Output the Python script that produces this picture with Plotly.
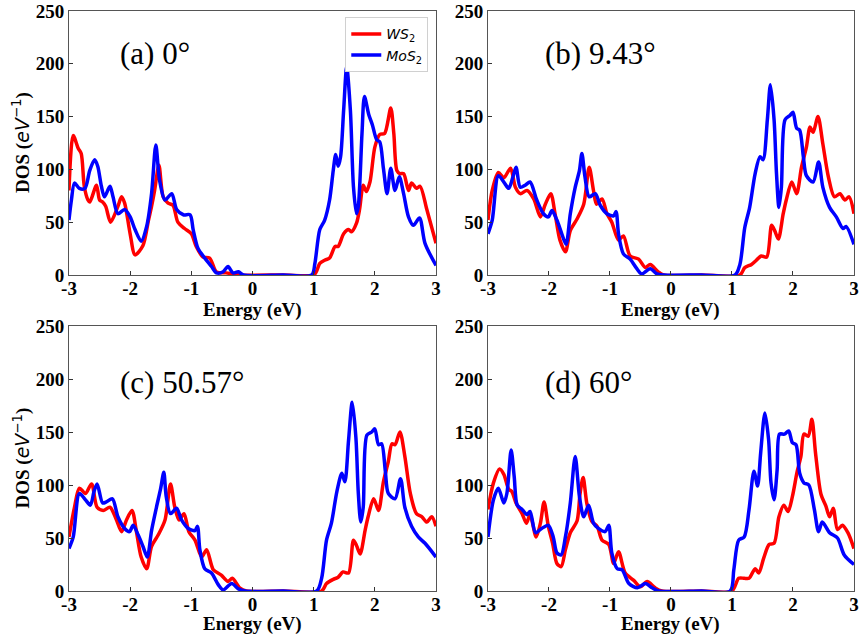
import plotly.graph_objects as go

# ---- DOS curves (energy in eV, DOS in eV^-1) ----
# (a) 0 deg
a_ws2_e = [-3.0, -2.93, -2.85, -2.8, -2.75, -2.69, -2.66, -2.55, -2.5, -2.45, -2.4, -2.32, -2.2, -2.14, -2.09,
           -2.0, -1.92, -1.79, -1.7, -1.65, -1.6, -1.53, -1.46, -1.38, -1.3, -1.22, -1.11, -1.0, -0.92, -0.81,
           -0.7, -0.59, -0.43, -0.32, -0.2, 0.5, 1.0, 1.05, 1.1, 1.18, 1.26, 1.35, 1.4, 1.49, 1.57, 1.62, 1.7,
           1.75, 1.81, 1.86, 1.92, 2.0, 2.08, 2.16, 2.26, 2.31, 2.36, 2.41, 2.47, 2.55, 2.6, 2.68, 2.74, 2.85, 3.0]
a_ws2_dos = [80, 132, 120, 115, 84, 71, 69, 85, 71, 69, 65, 50, 65, 74, 68,
             39, 19, 28, 52, 65, 80, 104, 74, 68, 66, 50, 44, 39, 27, 17,
             16, 3, 2, 1, 0, 0, 0, 4, 11, 14, 16, 27, 27, 39, 43, 41, 49,
             62, 85, 79, 88, 121, 133, 134, 158, 134, 99, 96, 96, 80, 87, 82, 84, 62, 30]
a_mos2_e = [-3.0, -2.96, -2.91, -2.83, -2.74, -2.66, -2.58, -2.53, -2.47, -2.42, -2.33, -2.28, -2.2, -2.09,
            -2.0, -1.92, -1.82, -1.73, -1.65, -1.58, -1.52, -1.43, -1.32, -1.24, -1.13, -1.02, -0.97, -0.89,
            -0.78, -0.67, -0.59, -0.48, -0.4, -0.32, -0.23, -0.15, 0.5, 0.97, 1.02, 1.1, 1.18, 1.26, 1.32, 1.36,
            1.4, 1.44, 1.49, 1.54, 1.6, 1.65, 1.7, 1.73, 1.79, 1.83, 1.9, 1.96, 2.03, 2.08, 2.14, 2.2, 2.26,
            2.33, 2.4, 2.47, 2.55, 2.63, 2.73, 2.82, 3.0]
a_mos2_dos = [52, 71, 87, 82, 82, 99, 109, 103, 84, 74, 84, 74, 58, 62,
              55, 43, 32, 46, 77, 123, 90, 71, 77, 62, 57, 57, 43, 25,
              16, 8, 2, 3, 8, 2, 3, 0, 0, 0, 11, 43, 52, 71, 99, 114,
              103, 112, 156, 197, 156, 84, 58, 65, 134, 169, 152, 142, 128, 126, 101, 77, 101,
              80, 93, 77, 55, 47, 54, 30, 9]

# (b) 9.43 deg
b_ws2_e = [-3.0, -2.93, -2.83, -2.74, -2.63, -2.55, -2.47, -2.36, -2.25, -2.14, -2.06, -1.97, -1.9, -1.82,
           -1.73, -1.65, -1.54, -1.43, -1.34, -1.27, -1.22, -1.13, -1.05, -0.97, -0.86, -0.78, -0.67, -0.53,
           -0.42, -0.34, -0.21, -0.12, 0.5, 1.13, 1.21, 1.32, 1.4, 1.48, 1.57, 1.65, 1.7, 1.76, 1.84, 1.89,
           1.98, 2.06, 2.14, 2.22, 2.28, 2.33, 2.41, 2.49, 2.58, 2.68, 2.77, 2.85, 2.92, 3.0]
b_ws2_dos = [52, 80, 97, 92, 101, 83, 77, 80, 72, 55, 67, 77, 58, 33,
             22, 42, 53, 67, 102, 80, 67, 72, 58, 50, 33, 37, 18, 15,
             7, 10, 3, 0, 0, 0, 7, 10, 14, 18, 17, 47, 42, 34, 58, 71,
             88, 77, 102, 121, 140, 135, 150, 124, 93, 74, 77, 71, 74, 58]
b_mos2_e = [-3.0, -2.93, -2.83, -2.74, -2.66, -2.59, -2.54, -2.47, -2.39, -2.31, -2.2, -2.09, -2.01, -1.95,
            -1.87, -1.79, -1.72, -1.65, -1.57, -1.5, -1.46, -1.41, -1.34, -1.24, -1.16, -1.05, -0.94, -0.9,
            -0.86, -0.78, -0.67, -0.56, -0.48, -0.34, -0.23, -0.12, 0.5, 1.05, 1.13, 1.21, 1.29, 1.38, 1.46,
            1.51, 1.58, 1.63, 1.69, 1.73, 1.77, 1.81, 1.87, 1.95, 2.0, 2.06, 2.11, 2.17, 2.22, 2.33, 2.42,
            2.49, 2.6, 2.71, 2.82, 2.87, 3.0]
b_mos2_dos = [39, 52, 94, 88, 82, 93, 102, 83, 85, 88, 71, 58, 55, 61,
              52, 39, 29, 58, 83, 99, 115, 93, 74, 77, 66, 58, 56, 60,
              39, 20, 15, 6, 1, 6, 1, 0, 0, 0, 10, 45, 64, 96, 112,
              109, 147, 180, 147, 96, 64, 83, 147, 151, 154, 139, 137, 112, 94, 88, 107,
              83, 64, 55, 44, 46, 29]

# (c) 50.57 deg
c_ws2_e = [-3.0, -2.91, -2.83, -2.73, -2.63, -2.54, -2.44, -2.33, -2.23, -2.14, -2.06, -1.97, -1.9, -1.82,
           -1.73, -1.65, -1.54, -1.43, -1.34, -1.27, -1.2, -1.12, -1.04, -0.94, -0.83, -0.75, -0.64, -0.51,
           -0.4, -0.33, -0.21, -0.1, 0.5, 1.13, 1.21, 1.32, 1.4, 1.48, 1.57, 1.65, 1.7, 1.76, 1.84, 1.89,
           1.98, 2.06, 2.14, 2.22, 2.28, 2.33, 2.41, 2.49, 2.58, 2.68, 2.77, 2.85, 2.93, 3.0]
c_ws2_dos = [51, 79, 97, 92, 101, 79, 76, 79, 68, 56, 67, 76, 57, 32,
             21, 42, 53, 67, 101, 79, 67, 73, 56, 48, 32, 39, 20, 15,
             9, 12, 3, 0, 0, 0, 7, 11, 13, 18, 17, 48, 43, 35, 57, 70,
             87, 76, 103, 122, 139, 138, 150, 127, 92, 73, 70, 65, 70, 61]
c_mos2_e = [-3.0, -2.93, -2.83, -2.73, -2.65, -2.59, -2.54, -2.45, -2.39, -2.29, -2.2, -2.09, -2.01, -1.95,
            -1.87, -1.79, -1.72, -1.65, -1.57, -1.5, -1.45, -1.41, -1.34, -1.24, -1.16, -1.05, -0.94, -0.9,
            -0.86, -0.78, -0.67, -0.56, -0.48, -0.34, -0.23, -0.12, 0.5, 1.05, 1.13, 1.21, 1.29, 1.38, 1.46,
            1.51, 1.57, 1.63, 1.69, 1.73, 1.77, 1.81, 1.87, 1.95, 2.0, 2.06, 2.11, 2.17, 2.22, 2.33, 2.42,
            2.49, 2.6, 2.71, 2.82, 3.0]
c_mos2_dos = [40, 51, 92, 86, 81, 94, 101, 83, 84, 87, 70, 59, 56, 62,
              53, 42, 32, 57, 79, 97, 112, 89, 73, 78, 67, 59, 57, 61,
              39, 21, 17, 6, 1, 7, 2, 0, 0, 0, 12, 48, 64, 94, 111,
              103, 142, 178, 145, 92, 65, 79, 147, 150, 153, 138, 139, 114, 92, 87, 106,
              79, 61, 51, 45, 32]

# (d) 60 deg
d_ws2_e = [-3.0, -2.91, -2.81, -2.74, -2.66, -2.61, -2.54, -2.44, -2.37, -2.31, -2.21, -2.14, -2.08, -2.01,
           -1.94, -1.87, -1.8, -1.73, -1.65, -1.54, -1.49, -1.44, -1.38, -1.3, -1.21, -1.13, -1.02, -0.94,
           -0.86, -0.75, -0.61, -0.5, -0.39, -0.26, -0.15, 0.5, 1.0, 1.11, 1.2, 1.28, 1.38, 1.44, 1.52, 1.61,
           1.69, 1.77, 1.85, 1.92, 1.99, 2.07, 2.13, 2.18, 2.25, 2.31, 2.37, 2.46, 2.54, 2.6, 2.66, 2.73,
           2.81, 2.9, 3.0]
d_ws2_dos = [77, 102, 115, 110, 96, 94, 83, 73, 64, 72, 51, 64, 84, 61,
             45, 26, 23, 39, 55, 66, 92, 107, 83, 66, 61, 48, 44, 26,
             37, 17, 10, 4, 9, 3, 0, 0, 0, 12, 12, 12, 21, 17, 31, 44,
             45, 70, 81, 75, 89, 113, 127, 148, 146, 162, 130, 91, 80, 70, 78, 58,
             62, 55, 40]
d_mos2_e = [-3.0, -2.91, -2.83, -2.74, -2.69, -2.62, -2.57, -2.52, -2.44, -2.36, -2.31, -2.22, -2.12, -2.01,
            -1.93, -1.87, -1.8, -1.73, -1.65, -1.57, -1.5, -1.43, -1.35, -1.27, -1.19, -1.08, -1.02, -0.97,
            -0.88, -0.8, -0.69, -0.55, -0.42, -0.31, -0.2, 0.5, 0.97, 1.03, 1.11, 1.2, 1.28, 1.36, 1.42, 1.47,
            1.54, 1.6, 1.64, 1.69, 1.74, 1.78, 1.86, 1.93, 1.99, 2.05, 2.11, 2.18, 2.26, 2.35, 2.42, 2.48,
            2.6, 2.73, 2.84, 3.0]
d_mos2_dos = [51, 86, 97, 83, 92, 133, 108, 81, 77, 72, 75, 55, 59, 62,
              51, 36, 34, 51, 83, 127, 89, 70, 81, 64, 59, 56, 62, 36,
              21, 20, 7, 3, 7, 3, 0, 0, 0, 20, 48, 51, 77, 113, 99, 130,
              168, 143, 102, 86, 114, 148, 148, 151, 140, 138, 111, 102, 100, 77, 56, 65,
              55, 50, 34, 25]

panel_labels = ["(a) 0°", "(b) 9.43°", "(c) 50.57°", "(d) 60°"]
label_pos = [(-2.2, 210), (-2.1, 210), (-2.2, 197), (-2.1, 197)]
series_names = ["<i>WS</i><sub>2</sub>", "<i>MoS</i><sub>2</sub>"]
x_title = "<b>Energy (eV)</b>"
y_title = '<b>DOS (</b><span style="font-family:DejaVu Sans"><i>eV</i><sup>−1</sup></span><b>)</b>'
x_ticks = [-3, -2, -1, 0, 1, 2, 3]
y_ticks = [0, 50, 100, 150, 200, 250]

panels = [
    (a_ws2_e, a_ws2_dos, a_mos2_e, a_mos2_dos),
    (b_ws2_e, b_ws2_dos, b_mos2_e, b_mos2_dos),
    (c_ws2_e, c_ws2_dos, c_mos2_e, c_mos2_dos),
    (d_ws2_e, d_ws2_dos, d_mos2_e, d_mos2_dos),
]

RED = "#ff0000"
BLUE = "#0000ff"
SERIF = "Liberation Serif"

x_domains = [[0.0802, 0.507], [0.5674, 0.993], [0.0802, 0.507], [0.5674, 0.993]]
y_domains = [[0.571, 0.983], [0.571, 0.983], [0.078, 0.4914], [0.078, 0.4914]]
x_title_y = [0.517, 0.517, 0.026, 0.026]   # paper y of the "Energy" titles
y_title_x = 0.0256                         # paper x of the "DOS" titles

fig = go.Figure()
layout = {}
annotations = []
for i, (we, wd, me, md) in enumerate(panels):
    n = "" if i == 0 else str(i + 1)
    xa, ya = "x" + n, "y" + n
    fig.add_trace(go.Scatter(x=we, y=wd, mode="lines", name=series_names[0],
                             line=dict(color=RED, width=3.5, shape="spline", smoothing=0.8),
                             xaxis=xa, yaxis=ya, showlegend=(i == 0)))
    fig.add_trace(go.Scatter(x=me, y=md, mode="lines", name=series_names[1],
                             line=dict(color=BLUE, width=3.5, shape="spline", smoothing=0.8),
                             xaxis=xa, yaxis=ya, showlegend=(i == 0)))
    layout["xaxis" + n] = dict(
        domain=x_domains[i], anchor=ya, range=[-3, 3], tickvals=x_ticks,
        ticktext=[str(t) for t in x_ticks], ticks="inside", ticklen=4, tickcolor="#333",
        showline=True, linecolor="#555", linewidth=1, mirror=True, showgrid=False, zeroline=False,
        automargin=False, ticklabelstandoff=-4,
        tickfont=dict(family=SERIF, size=19, color="black", weight="bold"),
    )
    layout["yaxis" + n] = dict(
        domain=y_domains[i], anchor=xa, range=[0, 250], tickvals=y_ticks,
        ticks="inside", ticklen=4, tickcolor="#333",
        showline=True, linecolor="#555", linewidth=1, mirror=True, showgrid=False, zeroline=False,
        automargin=False,
        tickfont=dict(family=SERIF, size=19, color="black", weight="bold"),
    )
    # axis titles
    annotations.append(dict(x=sum(x_domains[i]) / 2, y=x_title_y[i], xref="paper", yref="paper",
                            text=x_title, showarrow=False, xanchor="center", yanchor="middle",
                            font=dict(family=SERIF, size=19, color="black")))
    if i in (0, 2):
        annotations.append(dict(x=y_title_x, y=sum(y_domains[i]) / 2, xref="paper", yref="paper",
                                text=y_title, showarrow=False, textangle=-90,
                                xanchor="center", yanchor="middle",
                                font=dict(family=SERIF, size=19, color="black")))
    # panel label
    ex, dy = label_pos[i]
    annotations.append(dict(x=ex, y=dy, xref=xa, yref=ya, text=panel_labels[i], showarrow=False,
                            xanchor="left", yanchor="middle",
                            font=dict(family=SERIF, size=31, color="black")))

fig.update_layout(
    **layout,
    annotations=annotations,
    width=860, height=641,
    margin=dict(l=0, r=0, t=0, b=0),
    paper_bgcolor="white", plot_bgcolor="white",
    legend=dict(x=0.498, y=0.973, xanchor="right", yanchor="top",
                bgcolor="white", bordercolor="#d0d0d0", borderwidth=1,
                font=dict(family="DejaVu Sans", size=14, color="black"),
                itemwidth=30, tracegroupgap=0),
)

fig.write_html("out.html")
